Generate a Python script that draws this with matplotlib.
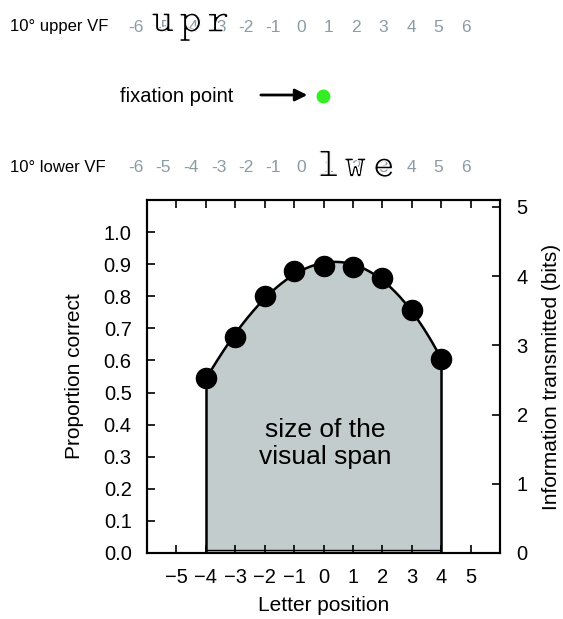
import numpy as np
import matplotlib.pyplot as plt
import matplotlib.patheffects as pe

plt.rcParams['font.family'] = ['Liberation Sans', 'DejaVu Sans']

# measured proportion correct at each letter position
positions = [-4, -3, -2, -1, 0, 1, 2, 3, 4]
proportion = [0.544, 0.674, 0.800, 0.878, 0.894, 0.890, 0.858, 0.757, 0.603]

# letter-slot rows shown above the chart
row_numbers = list(range(-6, 7))
upper_letters = ['u', 'p', 'r']
upper_slots = [-5, -4, -3]
lower_letters = ['l', 'w', 'e']
lower_slots = [1, 2, 3]

x_ticks = list(range(-5, 6))
y_ticks = [i / 10 for i in range(11)]
bits_ticks = [0, 1, 2, 3, 4, 5]

fill_col = '#c2cccc'
num_col = '#8a9ca4'

fig = plt.figure(figsize=(5.63, 6.19), dpi=100)

# ---- top illustration (x in letter slots, y in pixel rows) ----
top = fig.add_axes([0, 1 - 190 / 619, 1, 190 / 619])
top.set_xlim(-10.945, 9.527)
top.set_ylim(190, 0)
top.axis('off')

top.text(-10.58, 27, '10° upper VF', fontsize=12, va='center', ha='left')
top.text(-10.58, 168, '10° lower VF', fontsize=12, va='center', ha='left')
for n in row_numbers:
    top.text(n, 27, str(n), fontsize=12.5, color=num_col, ha='center', va='center')
    top.text(n, 168, str(n), fontsize=12.5, color=num_col, ha='center', va='center')

# thin the typewriter glyphs a little so they look like Courier
thin = [pe.Normal(), pe.Stroke(linewidth=0.9, foreground='white')]
for ch, s in zip(upper_letters, upper_slots):
    top.text(s, 32, r'$\mathtt{%s}$' % ch, fontsize=31, math_fontfamily='cm',
             ha='center', va='baseline', path_effects=thin)
for ch, s in zip(lower_letters, lower_slots):
    top.text(s, 177, r'$\mathtt{%s}$' % ch, fontsize=31, math_fontfamily='cm',
             ha='center', va='baseline', path_effects=thin)

top.text(-2.47, 96, 'fixation point', fontsize=14.5, ha='right', va='center')
top.annotate('', xy=(0.33, 95), xytext=(-1.56, 95),
             arrowprops=dict(arrowstyle='-|>', color='black', lw=2, mutation_scale=18))
top.plot([0.8], [96], 'o', color='#33ee22', ms=9)

# ---- main chart ----
ax = fig.add_axes([147 / 563, 66 / 619, 353 / 563, 353 / 619])

coef = np.polyfit(positions, proportion, 3)
xs = np.linspace(positions[0], positions[-1], 200)
ys = np.polyval(coef, xs)

ax.fill_between(xs, 0, ys, color=fill_col, zorder=1)
ax.plot(xs, ys, color='black', lw=1.8, zorder=2)
ax.vlines([xs[0], xs[-1]], 0, [ys[0], ys[-1]], color='black', lw=1.8, zorder=2)
ax.hlines(0.008, xs[0], xs[-1], color='black', lw=1, zorder=2)
ax.plot(positions, proportion, 'o', color='black', ms=14.5, zorder=3)

ax.text(0.06, 0.34, 'size of the\nvisual span', fontsize=19, ha='center', va='center',
        linespacing=1.15)

ax.set_xlim(-6, 6)
ax.set_ylim(0, 1.1)
ax.set_xticks(x_ticks)
ax.set_yticks(y_ticks)
ax.set_yticklabels([f'{v:.1f}' for v in y_ticks])
ax.tick_params(direction='in', length=6, width=1.2, top=True, labelsize=14.5, pad=11)
ax.set_xlabel('Letter position', fontsize=15, labelpad=6)
ax.set_ylabel('Proportion correct', fontsize=15, labelpad=14)
for sp in ax.spines.values():
    sp.set_linewidth(1.5)

ax2 = ax.twinx()
ax2.set_ylim(0, 5.1)
ax2.set_yticks(bits_ticks)
ax2.tick_params(direction='in', length=6, width=1.2, labelsize=14.5, pad=12)
ax2.set_ylabel('Information transmitted (bits)', fontsize=15, labelpad=10)
for sp in ax2.spines.values():
    sp.set_linewidth(1.5)

fig.savefig('out.png', dpi=100)
